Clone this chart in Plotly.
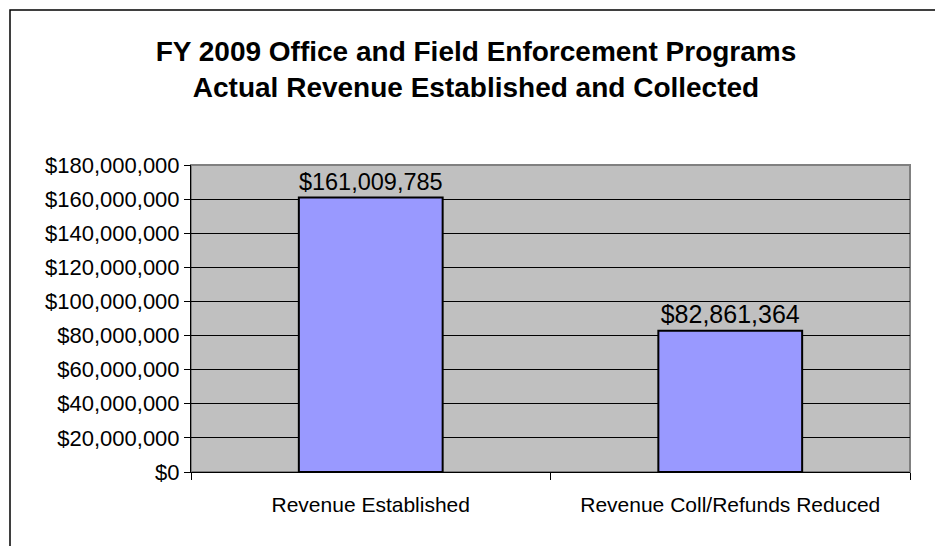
import plotly.graph_objects as go

categories = ["Revenue Established", "Revenue Coll/Refunds Reduced"]
values = [161009785, 82861364]
labels = ["$161,009,785", "$82,861,364"]
tick_vals = [0, 20000000, 40000000, 60000000, 80000000, 100000000, 120000000, 140000000, 160000000, 180000000]
tick_text = ["$" + format(v, ",") for v in tick_vals]

W, H = 935, 546
ML, MR, MT, MB = 191, 25, 165, 74
pw = W - ML - MR
ph = H - MT - MB
FONT = "Liberation Sans, Arial"

fig = go.Figure()
fig.add_trace(go.Bar(
    x=categories, y=values, text=labels, textposition="outside",
    textfont=dict(family=FONT, size=25, color="black"),
    marker=dict(color="#9999FF", line=dict(color="black", width=2)),
    width=0.4, cliponaxis=False,
))

fig.update_layout(
    width=W, height=H,
    margin=dict(l=ML, r=MR, t=MT, b=MB),
    paper_bgcolor="white", plot_bgcolor="#C0C0C0",
    showlegend=False,
    font=dict(family=FONT, size=21, color="black"),
    title=dict(
        text="<b>FY 2009 Office and Field Enforcement Programs<br>Actual Revenue Established and Collected</b>",
        x=476 / W, xanchor="center", y=1 - 61 / H, yanchor="middle",
        font=dict(family=FONT, size=28, color="black"),
    ),
)
fig.update_yaxes(
    range=[0, 180000000], tickvals=tick_vals, ticktext=tick_text,
    showgrid=True, gridcolor="black", gridwidth=1,
    showline=True, linecolor="black", linewidth=1,
    ticks="outside", ticklen=6, tickcolor="black",
    zeroline=False, fixedrange=True,
    tickfont=dict(family=FONT, size=22),
)
fig.update_xaxes(
    showline=True, linecolor="black", linewidth=1,
    ticks="outside", tickson="boundaries", ticklen=7, tickcolor="black",
    ticklabelstandoff=14,
    tickfont=dict(family=FONT, size=21), showgrid=False,
)
# plot area gray border (top/right)
fig.add_shape(type="rect", xref="paper", yref="paper", x0=0, x1=1, y0=0, y1=1,
              line=dict(color="#808080", width=2), fillcolor="rgba(0,0,0,0)", layer="below")
# outer chart frame
fig.add_shape(type="rect", xref="paper", yref="paper",
              x0=(10 - ML) / pw, x1=(W + 20 - ML) / pw,
              y0=-(H + 20 - MT - ph) / ph, y1=1 + (MT - 10) / ph,
              line=dict(color="black", width=1.5), fillcolor="rgba(0,0,0,0)")

fig.write_html("out.html")
